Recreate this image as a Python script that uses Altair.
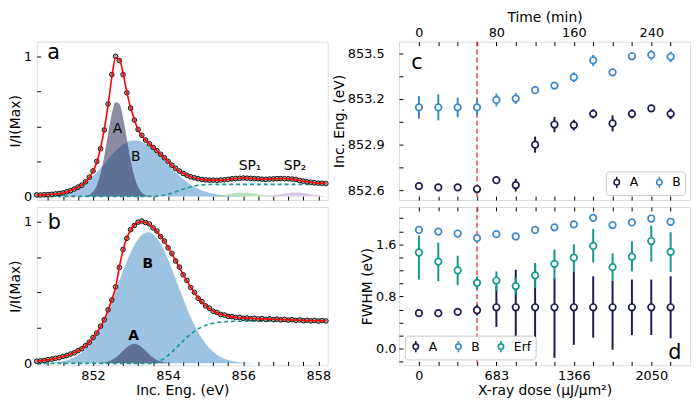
import altair as alt
import pandas as pd

FONT = "DejaVu Sans"
NAVY = "#1c1c4e"
BLUE = "#3d88c9"
TEAL = "#13998f"
RED = "#ee2b2b"
B_FILL = "#5b9bd0"
A_FILL = "#2b2b57"
GREEN = "#7cc47c"
PURPLE = "#b48fd6"

# ---------------- spectra (panels a, b) ----------------
energy = [850.5, 850.6, 850.7, 850.8, 850.9,
          851.0, 851.1, 851.2, 851.3, 851.4, 851.5, 851.6, 851.7, 851.8, 851.9,
          852.0, 852.1, 852.2, 852.3, 852.4, 852.5, 852.6, 852.7, 852.8, 852.9,
          853.0, 853.1, 853.2, 853.3, 853.4, 853.5, 853.6, 853.7, 853.8, 853.9,
          854.0, 854.1, 854.2, 854.3, 854.4, 854.5, 854.6, 854.7, 854.8, 854.9,
          855.0, 855.1, 855.2, 855.3, 855.4, 855.5, 855.6, 855.7, 855.8, 855.9,
          856.0, 856.1, 856.2, 856.3, 856.4, 856.5, 856.6, 856.7, 856.8, 856.9,
          857.0, 857.1, 857.2, 857.3, 857.4, 857.5, 857.6, 857.7, 857.8, 857.9,
          858.0, 858.1, 858.2]

fit_a = [0.010, 0.010, 0.011, 0.013, 0.015,
         0.017, 0.020, 0.025, 0.032, 0.042, 0.053, 0.065, 0.081, 0.104, 0.135,
         0.180, 0.244, 0.345, 0.480, 0.650, 0.850, 0.990, 0.980, 0.880, 0.745,
         0.635, 0.550, 0.476, 0.434, 0.403, 0.375, 0.350, 0.328, 0.300, 0.275,
         0.252, 0.222, 0.201, 0.180, 0.165, 0.151, 0.141, 0.132, 0.126, 0.121,
         0.118, 0.116, 0.115, 0.115, 0.117, 0.119, 0.122, 0.125, 0.128, 0.130,
         0.131, 0.131, 0.129, 0.127, 0.125, 0.123, 0.123, 0.124, 0.125, 0.126,
         0.127, 0.127, 0.126, 0.124, 0.120, 0.115, 0.109, 0.104, 0.100, 0.097,
         0.095, 0.094, 0.093]

data_a = [0.011, 0.010, 0.012, 0.013, 0.015,
          0.018, 0.021, 0.025, 0.033, 0.041, 0.053, 0.066, 0.080, 0.105, 0.137,
          0.182, 0.250, 0.340, 0.475, 0.660, 0.870, 1.000, 0.970, 0.870, 0.740,
          0.630, 0.545, 0.478, 0.436, 0.402, 0.376, 0.350, 0.327, 0.301, 0.276,
          0.251, 0.223, 0.200, 0.181, 0.164, 0.151, 0.140, 0.133, 0.126, 0.121,
          0.118, 0.116, 0.116, 0.115, 0.117, 0.119, 0.122, 0.126, 0.128, 0.129,
          0.131, 0.130, 0.129, 0.127, 0.126, 0.123, 0.122, 0.124, 0.125, 0.127,
          0.127, 0.126, 0.126, 0.124, 0.121, 0.114, 0.109, 0.104, 0.101, 0.097,
          0.095, 0.094, 0.092]

comp_A_a = [0.0] * 13 + [0.003, 0.012, 0.033, 0.078, 0.162, 0.289, 0.444, 0.588, 0.672,
                          0.662, 0.562, 0.412, 0.260, 0.142, 0.067, 0.027, 0.009, 0.003] + [0.0] * 47

comp_B_a = [0.001, 0.002, 0.003, 0.005, 0.007,
            0.010, 0.014, 0.019, 0.026, 0.035, 0.046, 0.060, 0.077, 0.096, 0.119,
            0.144, 0.172, 0.202, 0.233, 0.265, 0.295, 0.324, 0.350, 0.371, 0.387,
            0.397, 0.400, 0.398, 0.389, 0.376, 0.358, 0.336, 0.312, 0.285, 0.257,
            0.228, 0.200, 0.173, 0.148, 0.124, 0.103, 0.084, 0.068, 0.054, 0.042,
            0.033, 0.025, 0.019, 0.014, 0.010, 0.007, 0.005, 0.004, 0.003, 0.002,
            0.001] + [0.0] * 22

erf_a = [0.0] * 32 + [0.002, 0.005, 0.010, 0.016, 0.024, 0.033, 0.042, 0.051, 0.060, 0.067,
                      0.074, 0.079, 0.082, 0.084, 0.085] + [0.086] * 31

sp1_e = [855.2, 855.3, 855.4, 855.5, 855.6, 855.7, 855.8, 855.9, 856.0,
         856.1, 856.2, 856.3, 856.4, 856.5, 856.6, 856.7, 856.8, 856.9]
sp1_v = [0.003, 0.005, 0.008, 0.011, 0.016, 0.020, 0.024, 0.027, 0.028,
         0.027, 0.024, 0.020, 0.016, 0.011, 0.008, 0.005, 0.003, 0.001]
sp2_e = [856.6, 856.7, 856.8, 856.9, 857.0, 857.1, 857.2, 857.3, 857.4,
         857.5, 857.6, 857.7, 857.8, 857.9, 858.0, 858.1, 858.2]
sp2_v = [0.003, 0.005, 0.008, 0.011, 0.016, 0.020, 0.024, 0.027, 0.028,
         0.027, 0.024, 0.020, 0.016, 0.011, 0.008, 0.005, 0.003]

fit_b = [0.014, 0.017, 0.021, 0.025, 0.030,
         0.035, 0.041, 0.048, 0.056, 0.065, 0.076, 0.089, 0.104, 0.124, 0.150,
         0.180, 0.215, 0.260, 0.310, 0.375, 0.450, 0.535, 0.680, 0.800, 0.885,
         0.940, 0.975, 0.993, 1.000, 0.995, 0.980, 0.958, 0.930, 0.897, 0.860,
         0.818, 0.772, 0.725, 0.676, 0.628, 0.582, 0.538, 0.498, 0.462, 0.432,
         0.408, 0.387, 0.370, 0.357, 0.347, 0.339, 0.333, 0.328, 0.325, 0.322,
         0.320, 0.318, 0.317, 0.316, 0.315, 0.314, 0.313, 0.312, 0.311, 0.310,
         0.309, 0.308, 0.307, 0.306, 0.305, 0.304, 0.303, 0.302, 0.302, 0.301,
         0.300, 0.300, 0.300]

data_b = [0.015, 0.018, 0.020, 0.026, 0.030,
          0.036, 0.040, 0.049, 0.055, 0.066, 0.075, 0.090, 0.103, 0.125, 0.149,
          0.182, 0.214, 0.262, 0.308, 0.378, 0.447, 0.540, 0.676, 0.803, 0.882,
          0.943, 0.972, 0.996, 1.004, 0.993, 0.983, 0.955, 0.933, 0.894, 0.863,
          0.815, 0.775, 0.722, 0.679, 0.625, 0.585, 0.535, 0.501, 0.459, 0.435,
          0.405, 0.389, 0.368, 0.359, 0.345, 0.341, 0.331, 0.330, 0.323, 0.324,
          0.318, 0.320, 0.315, 0.318, 0.313, 0.316, 0.311, 0.314, 0.309, 0.312,
          0.307, 0.310, 0.305, 0.308, 0.303, 0.306, 0.301, 0.304, 0.300, 0.303,
          0.298, 0.302, 0.299]

comp_B_b = [0.001, 0.001, 0.002, 0.003, 0.005,
            0.007, 0.011, 0.015, 0.022, 0.031, 0.043, 0.058, 0.077, 0.102, 0.132,
            0.168, 0.210, 0.259, 0.315, 0.376, 0.442, 0.511, 0.582, 0.652, 0.720,
            0.781, 0.834, 0.876, 0.906, 0.922, 0.924, 0.911, 0.884, 0.843, 0.792,
            0.732, 0.666, 0.596, 0.526, 0.456, 0.389, 0.327, 0.270, 0.219, 0.175,
            0.138, 0.107, 0.082, 0.061, 0.045, 0.033, 0.024, 0.017, 0.011, 0.008,
            0.005, 0.004, 0.002, 0.001] + [0.0] * 19

comp_A_b = [0.0] * 17 + [0.002, 0.006, 0.013, 0.024, 0.041, 0.063, 0.089, 0.114, 0.131, 0.138,
                          0.131, 0.114, 0.089, 0.063, 0.041, 0.024, 0.013, 0.006, 0.002] + [0.0] * 42

erf_b = [0.0] * 32 + [0.006, 0.018, 0.035, 0.056, 0.080, 0.105, 0.132, 0.158, 0.183, 0.206,
                      0.226, 0.243, 0.257, 0.268, 0.277, 0.283, 0.288, 0.291, 0.293, 0.295,
                      0.296] + [0.297] * 12 + [0.298] * 13

e_ticks = [850.8, 851.2, 851.6, 852.0, 852.4, 852.8, 853.2, 853.6, 854.0, 854.4,
           854.8, 855.2, 855.6, 856.0, 856.4, 856.8, 857.2, 857.6, 858.0]
e_labels = [852, 854, 856, 858]
i_ticks = [0, 0.25, 0.5, 0.75, 1]
i_labels = [0, 1]

ann_a_letter = {"E": [850.95], "I": [0.98], "label": ["a"]}
ann_a = {"E": [852.65, 853.14, 856.18, 857.38], "I": [0.454, 0.251, 0.187, 0.187],
         "label": ["A", "B", "SP₁", "SP₂"]}
ann_b_letter = {"E": [850.97], "I": [0.945], "label": ["b"]}
ann_b = {"E": [853.46, 853.08], "I": [0.674, 0.168], "label": ["B", "A"]}

# ---------------- fit parameters vs time (panels c, d) ----------------
time_min = [0, 20, 40, 60, 80, 100, 120, 140, 160, 180, 200, 220, 240, 260]
time_ticks = [0, 20, 40, 60, 80, 100, 120, 140, 160, 180, 200, 220, 240, 260]
time_label_vals = [0, 80, 160, 240]
dose_labels = ["0", "683", "1366", "2050"]
onset_min = [60]

cA = [852.629, 852.621, 852.621, 852.610, 852.668, 852.636, 852.901,
      853.033, 853.029, 853.103, 853.040, 853.103, 853.139, 853.103]
cA_err = [0.008, 0.008, 0.008, 0.008, 0.020, 0.042, 0.053,
          0.050, 0.035, 0.030, 0.053, 0.030, 0.020, 0.035]
cB = [853.145, 853.145, 853.145, 853.145, 853.194, 853.203, 853.258,
      853.288, 853.343, 853.453, 853.375, 853.480, 853.489, 853.477]
cB_err = [0.074, 0.085, 0.064, 0.053, 0.042, 0.035, 0.020,
          0.020, 0.032, 0.036, 0.020, 0.020, 0.032, 0.034]
c_ticks = [852.6, 852.75, 852.9, 853.05, 853.2, 853.35, 853.5]
c_labels = [852.6, 852.9, 853.2, 853.5]

dA = [0.545, 0.545, 0.565, 0.590, 0.635, 0.635, 0.635, 0.635, 0.635, 0.635, 0.635, 0.635, 0.635, 0.635]
dA_lo = [0.525, 0.525, 0.545, 0.510, 0.335, 0.135, -0.055, -0.140, 0.060, 0.170, -0.015, 0.210, 0.210, 0.160]
dA_hi = [0.565, 0.565, 0.585, 0.675, 0.960, 1.210, 1.310, 1.085, 1.185, 1.110, 1.045, 1.060, 1.060, 1.110]
dB = [1.820, 1.795, 1.765, 1.695, 1.755, 1.720, 1.820, 1.860, 1.905, 2.005, 1.895, 1.935, 1.995, 1.945]
dE = [1.475, 1.335, 1.200, 1.010, 1.045, 0.960, 1.125, 1.300, 1.395, 1.575, 1.250, 1.410, 1.650, 1.485]
dE_lo = [1.060, 1.035, 0.975, 0.910, 0.885, 0.835, 0.935, 1.060, 1.175, 1.320, 1.045, 1.185, 1.335, 1.175]
dE_hi = [1.735, 1.625, 1.425, 1.110, 1.185, 1.095, 1.310, 1.520, 1.600, 1.835, 1.460, 1.645, 1.885, 1.785]
d_ticks = [-0.2, 0, 0.2, 0.4, 0.6, 0.8, 1.0, 1.2, 1.4, 1.6, 1.8, 2.0]
d_labels = [0, 0.8, 1.6]

series_c = ["A", "B"]
series_d = ["A", "B", "Erf"]

# ---------------- helpers ----------------
W, H = 294, 160


def mk_axis(**kw):
    base = dict(offset=-4, tickSize=4, tickWidth=1, tickColor="black", domain=False, grid=False,
                labelFont=FONT, labelFontSize=13, labelColor="black", labelPadding=4,
                labelOverlap=False, labelFlush=False,
                titleFont=FONT, titleFontSize=14, titleColor="black", titleFontWeight="normal",
                titlePadding=1)
    base.update(kw)
    return alt.Axis(**base)


def sel_expr(vals, fmt):
    return f"indexof({vals}, datum.value) >= 0 ? format(datum.value, '{fmt}') : ''"


SYMBOL = "M0,-1V-0.48M0,0.48V1M0.48,0A0.48,0.48,0,1,1,-0.48,0A0.48,0.48,0,1,1,0.48,0Z"


def mk_legend(orient, offset):
    return alt.Legend(title=None, orient=orient, offset=offset, direction="horizontal",
                      fillColor="white", strokeColor="#c8c8c8", cornerRadius=3, padding=4,
                      symbolType=SYMBOL, symbolSize=130, symbolStrokeWidth=1.6,
                      symbolFillColor="white", labelFont=FONT, labelFontSize=12.5,
                      labelColor="black", columnPadding=14, labelOffset=6)


e_scale = alt.Scale(domain=[850.5, 858.25], nice=False, zero=False)
ia_scale = alt.Scale(domain=[-0.026, 1.105], nice=False, zero=False)
ib_scale = alt.Scale(domain=[-0.014, 1.103], nice=False, zero=False)
t_scale = alt.Scale(domain=[-20.6, 280.0], nice=False, zero=False)
c_scale = alt.Scale(domain=[852.538, 853.576], nice=False, zero=False)
d_scale = alt.Scale(domain=[-0.254, 2.172], nice=False, zero=False)

i_expr = sel_expr(i_labels, "d")
e_expr = sel_expr(e_labels, "d")


def spectrum_panel(df_main, sp_list, i_scale, x_axis, letter, ann, ann_bold):
    xa = alt.X("E:Q", scale=e_scale, axis=x_axis)
    y_axis = mk_axis(values=i_ticks, labelExpr=i_expr, title="I/I(Max)", labelPadding=5)

    def ya(f):
        return alt.Y(f"{f}:Q", scale=i_scale, axis=y_axis)

    base = alt.Chart(df_main)
    layers = [
        base.mark_area(color=B_FILL, opacity=0.6, interpolate="monotone").encode(
            x=xa, y=ya("B"), y2=alt.value("height")),
        base.mark_area(color=A_FILL, opacity=0.55, interpolate="monotone").encode(
            x=xa, y=ya("A"), y2=alt.value("height")),
    ]
    for sp_df, col in sp_list:
        layers.append(alt.Chart(sp_df).mark_area(color=col, opacity=0.5, interpolate="monotone").encode(
            x=xa, y=ya("v"), y2=alt.datum(0)))
    layers += [
        base.mark_line(color=TEAL, strokeDash=[4, 3], strokeWidth=1.6).encode(x=xa, y=ya("erf")),
        base.mark_circle(size=22, color="#a8a8a8", stroke="black", strokeWidth=0.9, opacity=1).encode(
            x=xa, y=ya("data")),
        base.mark_line(color="#ff0000", strokeWidth=1.6, interpolate="monotone").encode(x=xa, y=ya("fit")),
        alt.Chart(pd.DataFrame(letter)).mark_text(font=FONT, fontSize=21, baseline="alphabetic",
                                                  align="center", color="black").encode(
            x=xa, y=ya("I"), text="label:N"),
        alt.Chart(pd.DataFrame(ann)).mark_text(font=FONT, fontSize=14, baseline="alphabetic",
                                               align="center", color="black",
                                               fontWeight="bold" if ann_bold else "normal").encode(
            x=xa, y=ya("I"), text="label:N"),
    ]
    return alt.layer(*layers).properties(width=W, height=H)


dfa = pd.DataFrame({"E": energy, "data": data_a, "fit": fit_a, "A": comp_A_a, "B": comp_B_a, "erf": erf_a})
dfb = pd.DataFrame({"E": energy, "data": data_b, "fit": fit_b, "A": comp_A_b, "B": comp_B_b, "erf": erf_b})
sp1_df = pd.DataFrame({"E": sp1_e, "v": sp1_v})
sp2_df = pd.DataFrame({"E": sp2_e, "v": sp2_v})

pa = spectrum_panel(dfa, [(sp1_df, GREEN), (sp2_df, PURPLE)], ia_scale,
                    mk_axis(values=e_ticks, labels=False, title=None), ann_a_letter, ann_a, False)
pb = spectrum_panel(dfb, [], ib_scale,
                    mk_axis(values=e_ticks, labelExpr=e_expr, title="Inc. Eng. (eV)", labelPadding=4),
                    ann_b_letter, ann_b, True)

# ---------------- panel c ----------------
dfc = pd.DataFrame({"series": ["A"] * len(time_min) + ["B"] * len(time_min),
                    "t": time_min + time_min, "v": cA + cB, "err": cA_err + cB_err})
c_yaxis = mk_axis(values=c_ticks, labelExpr=sel_expr(c_labels, ".1f"), title="Inc. Eng. (eV)",
                  labelPadding=15)
c_base = alt.Chart(dfc).transform_calculate(lo="datum.v - datum.err", hi="datum.v + datum.err")
c_col = alt.Scale(domain=series_c, range=[NAVY, BLUE])
c_leg = mk_legend("bottom-right", 5)
top_time_axis = mk_axis(values=time_ticks, labelExpr=sel_expr(time_label_vals, "d"),
                        title="Time (min)", orient="top", labelPadding=2, titlePadding=2)

c_on = alt.Chart(pd.DataFrame({"t": onset_min})).mark_rule(color=RED, strokeDash=[5, 3], strokeWidth=1.3).encode(
    x=alt.X("t:Q", scale=t_scale, axis=mk_axis(values=time_ticks, labels=False, title=None, orient="bottom")))
c_bars = c_base.mark_rule(strokeWidth=2).encode(
    x=alt.X("t:Q", scale=t_scale, axis=None),
    y=alt.Y("lo:Q", scale=c_scale, axis=c_yaxis), y2="hi:Q",
    color=alt.Color("series:N", scale=c_col, legend=c_leg))
c_pts = c_base.mark_point(shape="circle", filled=False, fill="white", fillOpacity=1, size=44,
                          strokeWidth=1.7, opacity=1).encode(
    x=alt.X("t:Q", scale=t_scale, axis=top_time_axis),
    y=alt.Y("v:Q", scale=c_scale, axis=c_yaxis),
    color=alt.Color("series:N", scale=c_col, legend=c_leg))
c_letter = alt.Chart(pd.DataFrame({"t": [-2.0], "v": [853.40], "label": ["c"]})).mark_text(
    font=FONT, fontSize=21, baseline="alphabetic", align="center", color="black").encode(
    x=alt.X("t:Q", scale=t_scale, axis=None), y=alt.Y("v:Q", scale=c_scale, axis=c_yaxis), text="label:N")
pc = alt.layer(c_on, c_bars, c_pts, c_letter).resolve_axis(x="independent").properties(width=W, height=H)

# ---------------- panel d ----------------
n = len(time_min)
dfd = pd.DataFrame({"series": ["A"] * n + ["B"] * n + ["Erf"] * n,
                    "t": time_min * 3,
                    "v": dA + dB + dE,
                    "lo": dA_lo + dB + dE_lo,
                    "hi": dA_hi + dB + dE_hi})
d_yaxis = mk_axis(values=d_ticks, labelExpr=sel_expr(d_labels, ".1f"), title="FWHM (eV)", labelPadding=3)
d_col = alt.Scale(domain=series_d, range=[NAVY, BLUE, TEAL])
d_leg = mk_legend("bottom-left", 6)
dose_expr = " : ".join(f"datum.value == {v} ? '{lab}'" for v, lab in zip(time_label_vals, dose_labels)) + " : ''"
bottom_dose_axis = mk_axis(values=time_ticks, labelExpr=dose_expr, title="X-ray dose (μJ/μm²)",
                           orient="bottom", labelPadding=4)

d_on = alt.Chart(pd.DataFrame({"t": onset_min})).mark_rule(color=RED, strokeDash=[5, 3], strokeWidth=1.3).encode(
    x=alt.X("t:Q", scale=t_scale, axis=mk_axis(values=time_ticks, labels=False, title=None, orient="top")))
d_base = alt.Chart(dfd)
d_bars = d_base.mark_rule(strokeWidth=2).encode(
    x=alt.X("t:Q", scale=t_scale, axis=None),
    y=alt.Y("lo:Q", scale=d_scale, axis=d_yaxis), y2="hi:Q",
    color=alt.Color("series:N", scale=d_col, legend=d_leg))
d_pts = d_base.mark_point(shape="circle", filled=False, fill="white", fillOpacity=1, size=44,
                          strokeWidth=1.7, opacity=1).encode(
    x=alt.X("t:Q", scale=t_scale, axis=bottom_dose_axis),
    y=alt.Y("v:Q", scale=d_scale, axis=d_yaxis),
    color=alt.Color("series:N", scale=d_col, legend=d_leg))
d_letter = alt.Chart(pd.DataFrame({"t": [264.3], "v": [-0.154], "label": ["d"]})).mark_text(
    font=FONT, fontSize=21, baseline="alphabetic", align="center", color="black").encode(
    x=alt.X("t:Q", scale=t_scale, axis=None), y=alt.Y("v:Q", scale=d_scale, axis=d_yaxis), text="label:N")
pd_ = alt.layer(d_on, d_bars, d_pts, d_letter).resolve_axis(x="independent").properties(width=W, height=H)

chart = alt.concat(pa, pc, pb, pd_, columns=2, spacing={"row": 7, "column": 72}, bounds="flush").properties(
    padding={"left": 0, "top": 0, "right": 0, "bottom": 0}
).resolve_scale(color="independent").resolve_legend(color="independent").configure_view(
    stroke="black", strokeWidth=1.2
).configure(font=FONT)

chart.save("out.html", embed_options={"renderer": "svg", "actions": False})
